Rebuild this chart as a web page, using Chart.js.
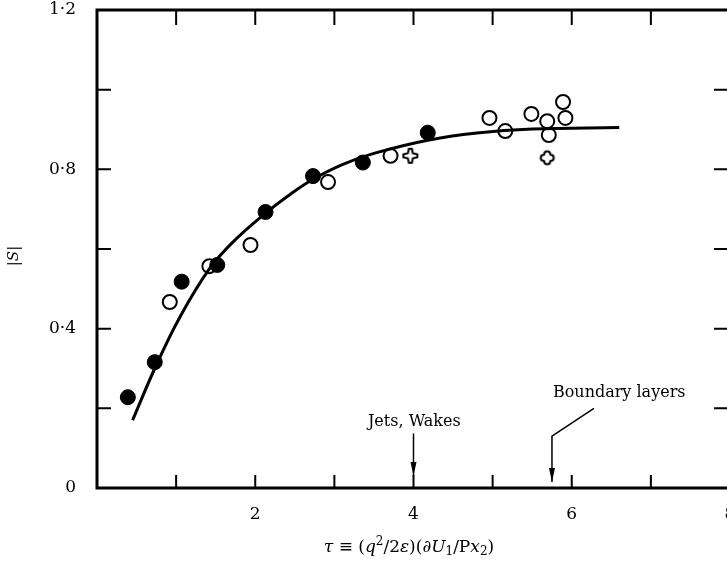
<!DOCTYPE html>
<html>
<head>
<meta charset="utf-8">
<script src="https://cdn.jsdelivr.net/npm/chart.js@4.4.0/dist/chart.umd.min.js"></script>
<style>
  html, body { margin: 0; padding: 0; background: #fff; overflow: hidden; }
  #wrap { width: 739px; height: 564px; }
</style>
</head>
<body>
<div id="wrap"><canvas id="chart" width="739" height="564"></canvas></div>
<script>
// data
const filledTau = [0.39, 0.73, 1.07, 1.52, 2.13, 2.73, 3.36, 4.18];
const filledS   = [0.228, 0.316, 0.518, 0.560, 0.693, 0.783, 0.817, 0.892];
const openTau = [0.92, 1.42, 1.94, 2.92, 3.71, 4.96, 5.16, 5.49, 5.69, 5.71, 5.89, 5.92];
const openS   = [0.467, 0.557, 0.610, 0.768, 0.834, 0.929, 0.896, 0.939, 0.921, 0.886, 0.969, 0.929];
const starTau = [3.96];
const starS   = [0.834];
const plusTau = [5.69];
const plusS   = [0.829];
const curveTau = [0.45, 0.73, 1.05, 1.42, 1.72, 2.13, 2.44, 2.73, 3.1, 3.5, 4.18, 4.8, 5.5, 6.6];
const curveS   = [0.17, 0.30, 0.43, 0.55, 0.618, 0.69, 0.737, 0.775, 0.812, 0.84, 0.873, 0.891, 0.901, 0.905];

const xTickLabels = ['2', '4', '6', '8'];
const yTickLabels = ['0', '0·4', '0·8', '1·2'];

// annotation anchors in data units
const jetsLabel = { x: 4.01, y: 0.166, text: 'Jets, Wakes' };
const jetsArrow = [[4.0, 0.137], [4.0, 0.03]];
const blLabel = { x: 6.6, y: 0.239, text: 'Boundary layers' };
const blArrow = [[6.28, 0.2], [5.75, 0.13], [5.75, 0.015]];

const SERIF = '"DejaVu Serif", "Liberation Serif", serif';

const pts = (xs, ys) => xs.map((x, i) => ({ x: x, y: ys[i] }));

function makeMarker(draw) {
  const c = document.createElement('canvas');
  c.width = 18; c.height = 18;
  const g = c.getContext('2d');
  g.translate(9, 9);
  g.lineWidth = 2;
  g.strokeStyle = '#000';
  g.fillStyle = '#fff';
  g.beginPath();
  draw(g);
  g.closePath();
  g.fill();
  g.stroke();
  return c;
}

// hollow four-pointed star
const starImg = makeMarker(g => {
  const p = [[-1.5,-7],[1.5,-7],[2.5,-2.5],[7,-1.5],[7,1.5],[2.5,2.5],[1.5,7],[-1.5,7],[-2.5,2.5],[-7,1.5],[-7,-1.5],[-2.5,-2.5]];
  g.moveTo(p[0][0], p[0][1]);
  p.slice(1).forEach(q => g.lineTo(q[0], q[1]));
});
// hollow rounded cross
const plusImg = makeMarker(g => {
  g.moveTo(-3, -3.5);
  g.arc(0, -3.5, 3, Math.PI, 0);
  g.arc(3.5, 0, 3, -Math.PI / 2, Math.PI / 2);
  g.arc(0, 3.5, 3, 0, Math.PI);
  g.arc(-3.5, 0, 3, Math.PI / 2, Math.PI * 1.5);
});

const framePlugin = {
  id: 'frame',
  afterDatasetsDraw(chart) {
    const ctx = chart.ctx;
    const a = chart.chartArea;
    const xs = chart.scales.x, ys = chart.scales.y;
    ctx.save();
    ctx.strokeStyle = '#000';
    ctx.lineWidth = 3;
    ctx.strokeRect(a.left, a.top, a.right - a.left, a.bottom - a.top);

    ctx.lineWidth = 2;
    ctx.beginPath();
    for (let v = 1; v <= 7; v++) {
      const px = xs.getPixelForValue(v);
      ctx.moveTo(px, a.bottom); ctx.lineTo(px, a.bottom - 13);
      ctx.moveTo(px, a.top); ctx.lineTo(px, a.top + 15);
    }
    for (let k = 1; k <= 5; k++) {
      const py = ys.getPixelForValue(k * 0.2);
      ctx.moveTo(a.left, py); ctx.lineTo(a.left + 14, py);
      ctx.moveTo(a.right, py); ctx.lineTo(a.right - 16, py);
    }
    ctx.stroke();

    // annotations
    ctx.fillStyle = '#000';
    ctx.font = '16px ' + SERIF;
    ctx.textAlign = 'center';
    ctx.textBaseline = 'middle';
    ctx.fillText(jetsLabel.text, xs.getPixelForValue(jetsLabel.x), ys.getPixelForValue(jetsLabel.y));
    ctx.fillText(blLabel.text, xs.getPixelForValue(blLabel.x), ys.getPixelForValue(blLabel.y));

    const arrow = (path) => {
      const P = path.map(p => [xs.getPixelForValue(p[0]), ys.getPixelForValue(p[1])]);
      ctx.lineWidth = 1.5;
      ctx.beginPath();
      ctx.moveTo(P[0][0], P[0][1]);
      P.slice(1).forEach(q => ctx.lineTo(q[0], q[1]));
      ctx.stroke();
      const tip = P[P.length - 1];
      ctx.beginPath();
      ctx.moveTo(tip[0], tip[1]);
      ctx.lineTo(tip[0] - 3, tip[1] - 14);
      ctx.lineTo(tip[0] + 3, tip[1] - 14);
      ctx.closePath();
      ctx.fill();
    };
    arrow(jetsArrow);
    arrow(blArrow);

    // x axis title with italic parts
    const segs = [
      ['τ', 'italic', 0], [' ≡ (', '', 0], ['q', 'italic', 0], ['2', '', -6], ['/2', '', 0],
      ['ε', 'italic', 0], [')(∂', '', 0], ['U', 'italic', 0], ['1', '', 4], ['/P', '', 0],
      ['x', 'italic', 0], ['2', '', 4], [')', '', 0]
    ];
    const fontOf = s => (s[1] ? s[1] + ' ' : '') + (s[2] ? '12px ' : '17px ') + SERIF;
    let total = 0;
    segs.forEach(s => { ctx.font = fontOf(s); total += ctx.measureText(s[0]).width; });
    let x = 409 - total / 2;
    ctx.textAlign = 'left';
    segs.forEach(s => {
      ctx.font = fontOf(s);
      ctx.fillText(s[0], x, 548 + s[2]);
      x += ctx.measureText(s[0]).width;
    });

    // y axis title |S|
    ctx.translate(14, 256);
    ctx.rotate(-Math.PI / 2);
    ctx.font = '15px ' + SERIF;
    const w1 = ctx.measureText('|').width;
    ctx.font = 'italic 15px ' + SERIF;
    const w2 = ctx.measureText('S').width;
    const sx = -(w1 * 2 + w2) / 2;
    ctx.font = '15px ' + SERIF;
    ctx.fillText('|', sx, 0);
    ctx.font = 'italic 15px ' + SERIF;
    ctx.fillText('S', sx + w1, 0);
    ctx.font = '15px ' + SERIF;
    ctx.fillText('|', sx + w1 + w2, 0);
    ctx.restore();
  }
};

new Chart(document.getElementById('chart'), {
  type: 'scatter',
  data: {
    datasets: [
      {
        type: 'line',
        data: pts(curveTau, curveS),
        borderColor: '#000',
        borderWidth: 3,
        pointRadius: 0,
        tension: 0.4,
        fill: false,
      },
      {
        data: pts(filledTau, filledS),
        pointStyle: 'circle',
        pointRadius: 7.5,
        backgroundColor: '#000',
        borderColor: '#000',
        borderWidth: 1,
      },
      {
        data: pts(openTau, openS),
        pointStyle: 'circle',
        pointRadius: 7,
        backgroundColor: '#fff',
        borderColor: '#000',
        borderWidth: 2,
      },
      { data: pts(starTau, starS), pointStyle: starImg },
      { data: pts(plusTau, plusS), pointStyle: plusImg },
    ],
  },
  options: {
    responsive: false,
    animation: false,
    events: [],
    layout: { padding: { top: 10, right: 6, left: 0, bottom: 0 } },
    plugins: { legend: { display: false }, tooltip: { enabled: false } },
    scales: {
      x: {
        type: 'linear',
        min: 0, max: 8,
        grid: { display: false },
        border: { display: false },
        afterFit: s => { s.height = 76; s.paddingLeft = 0; s.paddingRight = 0; },
        ticks: {
          stepSize: 1,
          autoSkip: false,
          maxRotation: 0,
          padding: 8,
          color: '#000',
          font: { family: SERIF, size: 17 },
          callback: v => xTickLabels.includes(String(v)) ? String(v) : '',
        },
      },
      y: {
        type: 'linear',
        min: 0, max: 1.2,
        grid: { display: false },
        border: { display: false },
        afterFit: s => { s.width = 97; s.paddingTop = 0; s.paddingBottom = 0; },
        ticks: {
          stepSize: 0.2,
          autoSkip: false,
          padding: 13,
          color: '#000',
          font: { family: SERIF, size: 17 },
          callback: v => {
            const k = Math.round(v * 10);
            return k % 4 === 0 ? yTickLabels[k / 4] : '';
          },
        },
      },
    },
  },
  plugins: [framePlugin],
});
</script>
</body>
</html>
